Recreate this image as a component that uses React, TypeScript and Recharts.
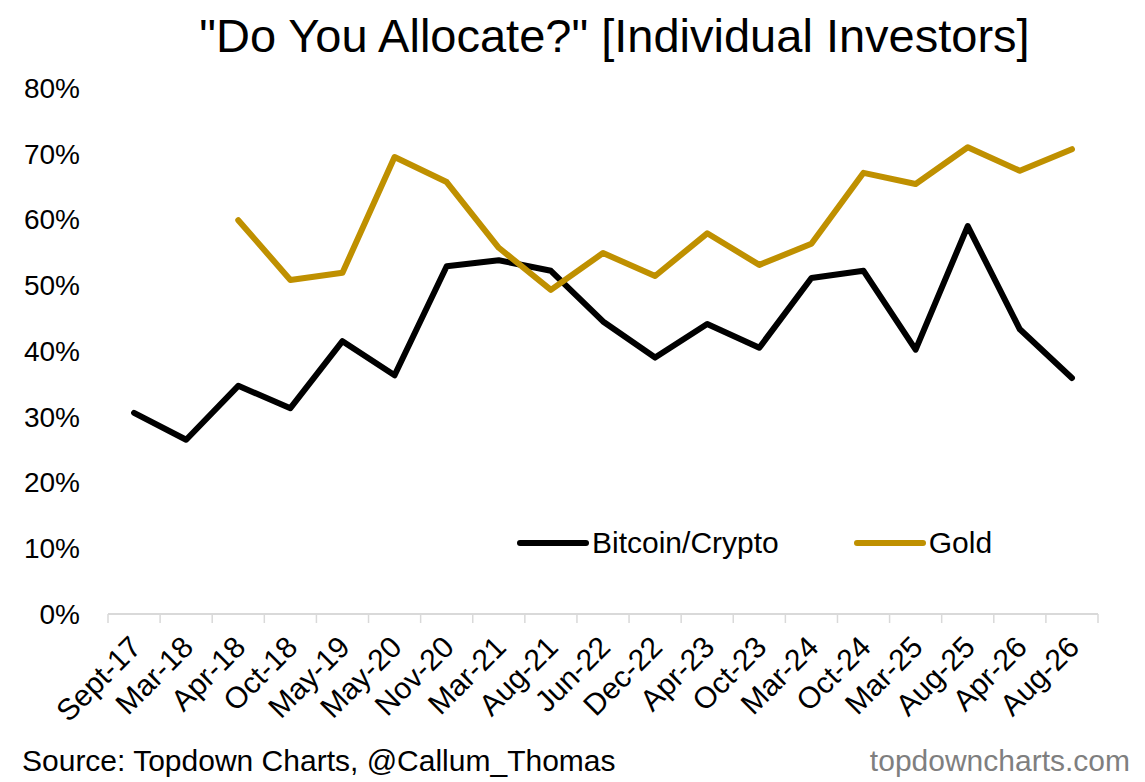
import React from 'react';
import { LineChart, Line, XAxis, YAxis, Legend } from 'recharts';

const CATEGORIES = ['Sept-17', 'Mar-18', 'Apr-18', 'Oct-18', 'May-19', 'May-20', 'Nov-20', 'Mar-21', 'Aug-21', 'Jun-22', 'Dec-22', 'Apr-23', 'Oct-23', 'Mar-24', 'Oct-24', 'Mar-25', 'Aug-25', 'Apr-26', 'Aug-26'];
const BITCOIN = [30.6, 26.5, 34.7, 31.3, 41.5, 36.3, 52.9, 53.8, 52.2, 44.5, 39.0, 44.1, 40.5, 51.1, 52.2, 40.2, 59.0, 43.3, 35.9];
const GOLD: (number | null)[] = [null, null, 59.9, 50.8, 51.9, 69.5, 65.7, 55.7, 49.3, 54.9, 51.4, 57.9, 53.1, 56.3, 67.1, 65.4, 71.0, 67.4, 70.7];
const Y_TICKS = [0, 10, 20, 30, 40, 50, 60, 70, 80];

const data = CATEGORIES.map((c, i) => ({ cat: c, btc: BITCOIN[i], gold: GOLD[i] }));

const W = 1145;
const H = 782;
const M_LEFT = 0;
const Y_W = 108;
const M_RIGHT = 47;
const M_TOP = 88;
const PLOT_BOTTOM = 614;
const X_H = 130;
const M_BOTTOM = H - PLOT_BOTTOM - X_H;
const PLOT_W = W - M_LEFT - Y_W - M_RIGHT;
const HALF = PLOT_W / CATEGORIES.length / 2;
const FONT = '"Liberation Sans", Arial, sans-serif';
const GOLD_COLOR = '#BF9000';
const AXIS_COLOR = '#D9D9D9';

function XTick(props: any) {
  const { x, y, payload, index } = props;
  return (
    <g>
      <line x1={x - HALF} x2={x - HALF} y1={y} y2={y + 9} stroke={AXIS_COLOR} strokeWidth={1.5} />
      {index === CATEGORIES.length - 1 && (
        <line x1={x + HALF} x2={x + HALF} y1={y} y2={y + 9} stroke={AXIS_COLOR} strokeWidth={1.5} />
      )}
      <text
        transform={`translate(${x + 9},${y + 35}) rotate(-45)`}
        textAnchor="end"
        fontSize={30}
        fontFamily={FONT}
        fill="#000"
      >
        {payload.value}
      </text>
    </g>
  );
}

function LegendContent(props: any) {
  const { payload } = props;
  return (
    <div style={{ display: 'flex', alignItems: 'center', gap: 74, fontFamily: FONT, fontSize: 30, color: '#000' }}>
      {(payload || []).map((p: any) => (
        <div key={p.value} style={{ display: 'flex', alignItems: 'center' }}>
          <svg width={74} height={12} style={{ display: 'block' }}>
            <line x1={4} x2={70} y1={6} y2={6} stroke={p.color} strokeWidth={6} strokeLinecap="round" />
          </svg>
          <span style={{ marginLeft: 2, lineHeight: '30px' }}>{p.value}</span>
        </div>
      ))}
    </div>
  );
}

export default function App() {
  return (
    <div style={{ position: 'absolute', left: 0, top: 0, width: W, height: H, background: '#fff', fontFamily: FONT }}>
      <LineChart
        width={W}
        height={H}
        data={data}
        margin={{ top: M_TOP, right: M_RIGHT, bottom: M_BOTTOM, left: M_LEFT }}
      >
        <XAxis
          dataKey="cat"
          interval={0}
          height={X_H}
          padding={{ left: HALF, right: HALF }}
          axisLine={{ stroke: AXIS_COLOR, strokeWidth: 2 }}
          tickLine={false}
          tickSize={0}
          tickMargin={0}
          tick={<XTick />}
        />
        <YAxis
          width={Y_W}
          domain={[0, 80]}
          ticks={Y_TICKS}
          interval={0}
          axisLine={false}
          tickLine={false}
          tickMargin={22}
          tickFormatter={(v: number) => `${v}%`}
          tick={{ fontSize: 28, fill: '#000', fontFamily: FONT }}
        />
        <Legend
          layout="vertical"
          align="center"
          verticalAlign="middle"
          content={<LegendContent />}
          wrapperStyle={{ position: 'absolute', left: 516, top: 528, width: 580, height: 30 }}
        />
        <Line
          type="linear"
          dataKey="btc"
          name="Bitcoin/Crypto"
          stroke="#000000"
          strokeWidth={6}
          strokeLinejoin="round"
          strokeLinecap="round"
          dot={false}
          activeDot={false}
          isAnimationActive={false}
        />
        <Line
          type="linear"
          dataKey="gold"
          name="Gold"
          stroke={GOLD_COLOR}
          strokeWidth={6}
          strokeLinejoin="round"
          strokeLinecap="round"
          dot={false}
          activeDot={false}
          isAnimationActive={false}
        />
      </LineChart>
      <svg width={W} height={H} style={{ position: 'absolute', left: 0, top: 0, pointerEvents: 'none' }}>
        <text x={614.5} y={52} textAnchor="middle" fontSize={47} fontFamily={FONT} fill="#000">
          "Do You Allocate?" [Individual Investors]
        </text>
        <text x={22} y={771} fontSize={30} fontFamily={FONT} fill="#000">
          Source: Topdown Charts, @Callum_Thomas
        </text>
        <text x={1130} y={771} textAnchor="end" fontSize={30} fontFamily={FONT} fill="#7F7F7F">
          topdowncharts.com
        </text>
      </svg>
    </div>
  );
}
